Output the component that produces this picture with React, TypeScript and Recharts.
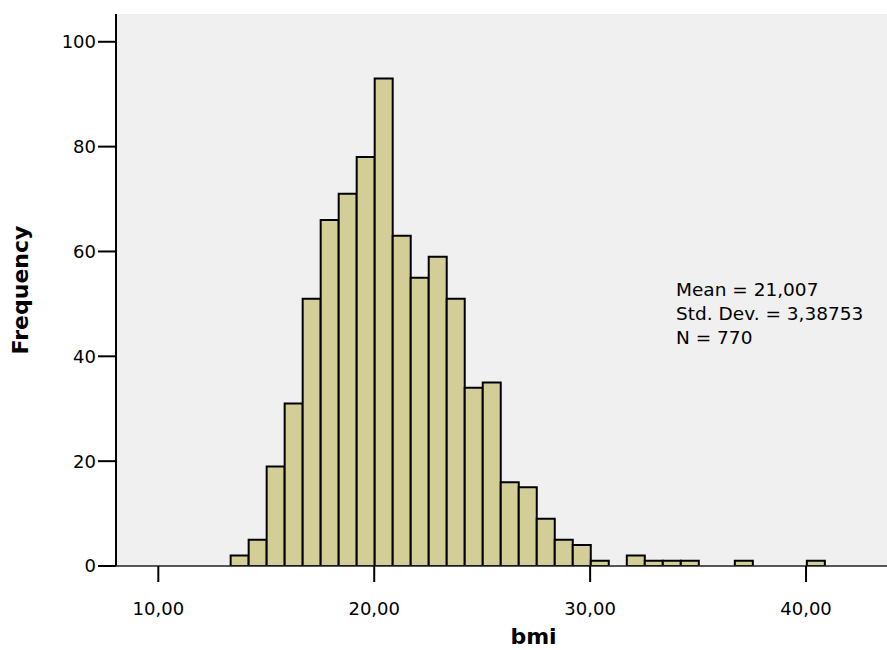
import { Bar, BarChart, CartesianGrid, Label, XAxis, YAxis } from "recharts";

// bin midpoints of the bmi histogram (bin width about 0.834)
const binMid = [
  13.767, 14.601, 15.435, 16.269, 17.103, 17.937, 18.771, 19.605, 20.439, 21.273, 22.107,
  22.941, 23.775, 24.609, 25.443, 26.277, 27.111, 27.945, 28.779, 29.613, 30.447, 31.281,
  32.115, 32.949, 33.783, 34.617, 35.451, 36.285, 37.119, 37.953, 38.787, 39.621, 40.455,
];
const frequency = [
  2, 5, 19, 31, 51, 66, 71, 78, 93, 63, 55, 59, 51, 34, 35, 16, 15, 9, 5, 4, 1, 0, 2, 1, 1, 1,
  0, 0, 1, 0, 0, 0, 1,
];
const xTicks = [10, 20, 30, 40];
const yTicks = [0, 20, 40, 60, 80, 100];
const statLines = ["Mean = 21,007", "Std. Dev. = 3,38753", "N = 770"];

const data = binMid.map((bmi, i) => ({ bmi, count: frequency[i] }));

const FONT = "'DejaVu Sans', sans-serif";
const fmt = (v: number) => v.toFixed(2).replace(".", ",");

const YTitle = ({ viewBox }: any) => {
  const cx = 28;
  const cy = viewBox.y + viewBox.height / 2;
  return (
    <text x={cx} y={cy} transform={`rotate(-90 ${cx} ${cy})`} textAnchor="middle" fontFamily={FONT} fontWeight="bold" fontSize={22} fill="#000">
      Frequency
    </text>
  );
};

const XTitle = ({ viewBox }: any) => {
  const cx = viewBox.x + viewBox.width / 2 + 32;
  return (
    <text x={cx} y={644} textAnchor="middle" fontFamily={FONT} fontWeight="bold" fontSize={22} fill="#000">
      bmi
    </text>
  );
};

export default function App() {
  return (
    <div style={{ position: "absolute", left: 0, top: 0, width: 887, height: 650, background: "#fff", fontFamily: FONT }}>
      <BarChart width={887} height={650} data={data} margin={{ top: 14, right: 0, bottom: 0, left: 0 }} barCategoryGap={0} barGap={0}>
        <CartesianGrid horizontal={false} vertical={false} fill="#f0f0f0" />
        <XAxis
          xAxisId="top"
          orientation="top"
          type="number"
          domain={[8.04, 43.75]}
          allowDataOverflow
          height={0}
          tick={false}
          tickLine={false}
          axisLine={{ stroke: "#000", strokeWidth: 1.5 }}
        />
        <XAxis
          dataKey="bmi"
          type="number"
          domain={[8.04, 43.75]}
          allowDataOverflow
          ticks={xTicks}
          tickFormatter={fmt}
          height={84}
          tickSize={16}
          tickMargin={20}
          tick={{ fill: "#000", fontSize: 18, fontFamily: FONT }}
          tickLine={{ stroke: "#000", strokeWidth: 2 }}
          axisLine={{ stroke: "#222", strokeWidth: 1.5 }}
        >
          <Label content={<XTitle />} />
        </XAxis>
        <YAxis
          domain={[0, 105.3]}
          allowDataOverflow
          ticks={yTicks}
          width={116}
          tickSize={18}
          tick={{ fill: "#000", fontSize: 18, fontFamily: FONT }}
          tickLine={{ stroke: "#000", strokeWidth: 2 }}
          axisLine={{ stroke: "#000", strokeWidth: 2 }}
        >
          <Label content={<YTitle />} />
        </YAxis>
        <Bar dataKey="count" fill="#d3ce98" stroke="#000" strokeWidth={2} isAnimationActive={false} />
      </BarChart>
      <div style={{ position: "absolute", left: 676, top: 278, fontSize: 18.5, lineHeight: "24px", color: "#000", whiteSpace: "nowrap" }}>
        {statLines.map((line) => (
          <div key={line}>{line}</div>
        ))}
      </div>
    </div>
  );
}
